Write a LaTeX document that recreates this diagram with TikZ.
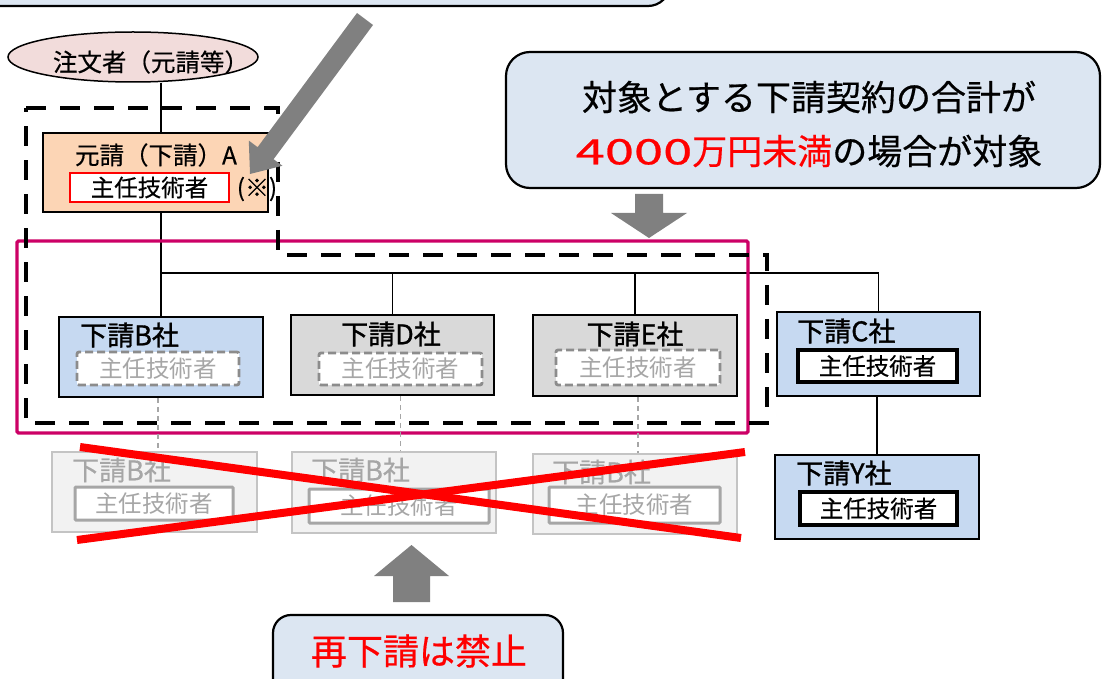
\documentclass[tikz,border=0pt]{standalone}
\usepackage{fontspec}
\setmainfont{Noto Sans CJK JP}
\newfontfamily\jpbold[FakeBold=1.2]{Noto Sans CJK JP}
\newfontfamily\jpmid[FakeBold=0.5]{Noto Sans CJK JP}
\usetikzlibrary{calc,shapes.geometric}
\definecolor{calloutblue}{HTML}{DCE6F2}
\definecolor{boxblue}{HTML}{C6D9F1}
\definecolor{boxgray}{HTML}{D9D9D9}
\definecolor{ghostfill}{HTML}{F2F2F2}
\definecolor{ghostline}{HTML}{C4C4C4}
\definecolor{ghosttext}{HTML}{A6A6A6}
\definecolor{peach}{HTML}{FCD5B5}
\definecolor{pinkfill}{HTML}{F2DCDB}
\definecolor{magentaline}{HTML}{CC0066}
\definecolor{arrowgray}{HTML}{808080}
\definecolor{dashgray}{HTML}{8C8C8C}
\newcommand{\setfs}[1]{\fontsize{#1}{#1}\selectfont}
\begin{document}
\begin{tikzpicture}[x=1pt,y=-1pt,
  outerbox/.style={draw=black, line width=1.6pt, inner sep=0pt},
  bluebox/.style={outerbox, fill=boxblue},
  graybox/.style={outerbox, fill=boxgray},
  ghostbox/.style={draw=ghostline, line width=1.6pt, fill=ghostfill, inner sep=0pt},
  dashinner/.style={draw=dashgray, line width=2.8pt, dash pattern=on 8pt off 4pt, fill=white, rounded corners=2pt, inner sep=0pt, text=ghosttext, font=\setfs{23.5}},
  solidinner/.style={draw=black, line width=3.2pt, fill=white, inner sep=0pt, font=\jpmid\setfs{23.5}},
  ghostinner/.style={draw=ghosttext, line width=3pt, fill=white, rounded corners=1pt, inner sep=0pt, text=ghosttext, font=\setfs{23.5}},
  lbl/.style={inner sep=0pt, font=\jpbold\setfs{27}},
  ghostlbl/.style={lbl, text=ghosttext, font=\jpmid\setfs{27}},
  link/.style={draw=black, line width=1.3pt},
  ghostlink/.style={draw=ghosttext, line width=1.2pt, dash pattern=on 5pt off 4pt},
  blockarrow/.style={fill=arrowgray},
  callout/.style={draw=black, line width=2.2pt, fill=calloutblue}
]
\useasboundingbox (0,0) rectangle (1104,679);

% top cut-off callout
\draw[callout, rounded corners=22pt] (-40,-90) rectangle (670,6);

% right callout
\node[callout, rounded corners=24pt, minimum width=594pt, minimum height=136pt, inner sep=0pt] (cond) at (803,120) {};
\node[inner sep=0pt, font=\jpmid\setfs{35}] (condA) at (809,97) {対象とする下請契約の合計が};
\node[inner sep=0pt, font=\jpmid\setfs{35}] (condB) at (809,151) {{\color{red}\scalebox{1.5}[1]{4000}万円未満}の場合が対象};

% ellipse
\node[draw=black, line width=1.5pt, fill=pinkfill, ellipse, minimum width=250pt, minimum height=50pt, inner sep=0pt] (orderer) at (133,57) {};
\node[inner sep=0pt, font=\jpmid\setfs{24.5}] (ordererT) at (151,62) {注文者（元請等）};

% boxes
\node[outerbox, fill=peach, minimum width=225pt, minimum height=79pt] (A) at (155.5,172.5) {};
\node[bluebox, minimum width=204pt, minimum height=80pt] (B) at (161,357) {};
\node[graybox, minimum width=203pt, minimum height=80pt] (D) at (392.5,355) {};
\node[graybox, minimum width=204pt, minimum height=81pt] (E) at (635,355.5) {};
\node[bluebox, minimum width=203pt, minimum height=84pt] (C) at (878.5,354) {};
\node[bluebox, minimum width=204pt, minimum height=84pt] (Y) at (877,497) {};
\node[ghostbox, minimum width=205pt, minimum height=80pt] (gB) at (154.5,492) {};
\node[ghostbox, minimum width=204pt, minimum height=81pt] (gD) at (394,492.5) {};
\node[ghostbox, minimum width=204pt, minimum height=80pt] (gE) at (635,494) {};

% connectors
\coordinate (trunk) at (161,273);
\draw[link] (orderer.south -| trunk) -- (A.north -| trunk);
\draw[link] (A.south -| trunk) -- (B.north -| trunk);
\draw[link] (trunk) -- (trunk -| C.north) -- (C.north);
\draw[link] (trunk -| D.north) -- (D.north);
\draw[link] (trunk -| E.north) -- (E.north);
\draw[link] (C.south -| Y.north) -- (Y.north);

% labels
\node[lbl, font=\jpmid\setfs{24.5}] (Alabel) at (156,155) {元請（下請）A};
\node[lbl, anchor=west] (Blabel) at (80,335) {下請B社};
\node[lbl] (Dlabel) at (391,334) {下請D社};
\node[lbl] (Elabel) at (635,334) {下請E社};
\node[lbl, anchor=west] (Clabel) at (797,331) {下請C社};
\node[lbl, anchor=west] (Ylabel) at (796,473) {下請Y社};
\node[ghostlbl, anchor=west] (gBlabel) at (72,470) {下請B社};
\node[ghostlbl, anchor=west] (gDlabel) at (311,470) {下請B社};
\node[ghostlbl, anchor=west] (gElabel) at (552,472) {下請B社};

% inner boxes
\node[draw=red, line width=2.6pt, fill=white, inner sep=0pt, minimum width=159pt, minimum height=29pt, font=\jpmid\setfs{23.5}] (Ai) at (149.5,187.5) {主任技術者};
\node[inner sep=0pt, font=\jpmid\setfs{24}] (Anote) at (257,189) {(※)};
\node[dashinner, minimum width=162pt, minimum height=33pt] (Bi) at (158,368.5) {主任技術者};
\node[dashinner, minimum width=163pt, minimum height=32pt] (Di) at (400.5,369) {主任技術者};
\node[dashinner, minimum width=164pt, minimum height=35pt] (Ei) at (638,367.5) {主任技術者};
\node[solidinner, minimum width=159pt, minimum height=32pt] (Ci) at (877.5,366) {主任技術者};
\node[solidinner, minimum width=157pt, minimum height=33pt] (Yi) at (878.5,508.5) {主任技術者};
\node[ghostinner, minimum width=158pt, minimum height=33pt] (gBi) at (154,503.5) {主任技術者};
\node[ghostinner, minimum width=180pt, minimum height=34pt] (gDi) at (399,506) {主任技術者};
\node[ghostinner, minimum width=171pt, minimum height=36pt] (gEi) at (634.5,505) {主任技術者};

% magenta frame
\draw[magentaline, line width=3.4pt, rounded corners=1.5pt] (17,241) rectangle (748,433);
% black dashed frame
\draw[black, line width=4.5pt, dash pattern=on 20pt off 14pt] (26,108) -- (278,108) -- (278,255) -- (767,255) -- (767,423) -- (26,423) -- cycle;

% ghost links
\draw[ghostlink] (Bi.south |- B.south) -- (Bi.south |- gB.north);
\draw[ghostlink] (Di.south |- D.south) -- (Di.south |- gD.north);
\draw[ghostlink] (Ei.south |- E.south) -- (Ei.south |- gE.north);

% red cross
\coordinate (x1a) at (80,447);
\coordinate (x1b) at (741,538);
\coordinate (x2a) at (77,540);
\coordinate (x2b) at (745,452);
\draw[red, line width=8pt] (x1a) -- (x1b);
\draw[red, line width=8pt] (x2a) -- (x2b);

% block arrows
\fill[blockarrow] (357,13) -- (373,25) -- (273.6,159.2) -- (282.4,165.8) -- (250,174) -- (248.8,140.6) -- (257.6,147.2) -- cycle;
\fill[blockarrow] (635,194) -- (663,194) -- (663,213) -- (687,213) -- (649,238) -- (611,213) -- (635,213) -- cycle;
\fill[blockarrow] (393,602) -- (393,576) -- (374,576) -- (411.5,545) -- (449,576) -- (430,576) -- (430,602) -- cycle;

% bottom callout
\draw[callout, rounded corners=18pt] (273,615) rectangle (563,740);
\node[inner sep=0pt, font=\jpmid\setfs{36}, text=red] (ban) at (419,651) {再下請は禁止};
\end{tikzpicture}
\end{document}
